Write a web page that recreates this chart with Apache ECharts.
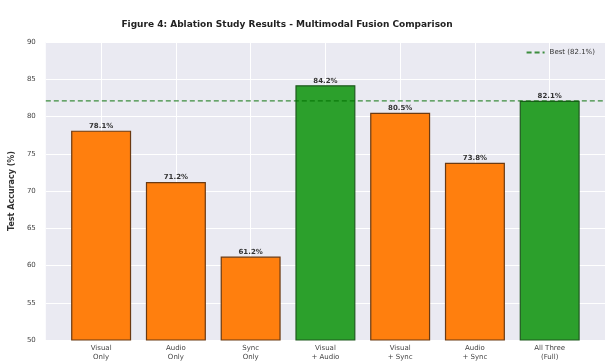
<!DOCTYPE html>
<html>
<head>
<meta charset="utf-8">
<script src="https://cdn.jsdelivr.net/npm/echarts@6/dist/echarts.min.js"></script>
<style>
  html, body { margin: 0; padding: 0; background: #fff; }
  #chart { width: 610px; height: 363px; }
</style>
</head>
<body>
<div id="chart"></div>
<script>
// data
var categories = [
  "Visual\nOnly", "Audio\nOnly", "Sync\nOnly", "Visual\n+ Audio",
  "Visual\n+ Sync", "Audio\n+ Sync", "All Three\n(Full)"
];
var accuracy = [78.1, 71.2, 61.2, 84.2, 80.5, 73.8, 82.1];
var bestValue = 82.1;
var yTicks = [50, 55, 60, 65, 70, 75, 80, 85, 90];

var myChart = echarts.init(document.getElementById("chart"));

var xIdx = categories.map(function (c, i) { return i; });

var barData = accuracy.map(function (v, i) {
  var good = v >= bestValue;
  return {
    value: [i, v],
    itemStyle: {
      color: good ? "#2ca02c" : "#ff7f0e",
      borderColor: good ? "#1f5a1f" : "#6b3a12",
      borderWidth: 1.2
    }
  };
});

var bestName = "Best (" + bestValue + "%)";

var option = {
  animation: false,
  title: {
    text: "Figure 4: Ablation Study Results - Multimodal Fusion Comparison",
    left: 282,
    top: 15,
    textAlign: "center",
    textStyle: { fontFamily: "DejaVu Sans", fontSize: 9, fontWeight: "bold", color: "#222" }
  },
  legend: {
    right: 10,
    top: 44,
    itemWidth: 18,
    itemHeight: 8,
    textStyle: { fontFamily: "DejaVu Sans", fontSize: 7, color: "#333" },
    data: [{ name: bestName, itemStyle: { opacity: 0 } }]
  },
  grid: {
    left: 45,
    right: 5,
    top: 42,
    bottom: 23,
    show: true,
    backgroundColor: "#eaeaf2",
    borderWidth: 0
  },
  xAxis: {
    type: "value",
    min: -0.74,
    max: 6.74,
    axisLine: { show: false },
    axisTick: { show: false },
    splitLine: { show: false },
    axisLabel: {
      customValues: xIdx,
      formatter: function (v) { return categories[Math.round(v)]; },
      fontFamily: "DejaVu Sans",
      fontSize: 7,
      lineHeight: 9,
      color: "#444",
      margin: 4
    }
  },
  yAxis: {
    type: "value",
    min: 50,
    max: 90,
    interval: 5,
    name: "Test Accuracy (%)",
    nameLocation: "middle",
    nameGap: 22,
    nameTextStyle: { fontFamily: "DejaVu Sans", fontSize: 8, fontWeight: "bold", color: "#333" },
    axisLine: { show: false },
    axisTick: { show: false },
    splitLine: { lineStyle: { color: "#ffffff", width: 1 } },
    axisLabel: {
      fontFamily: "DejaVu Sans",
      fontSize: 7,
      color: "#444",
      margin: 10,
      formatter: function (v) { return yTicks.indexOf(v) >= 0 ? String(v) : ""; }
    }
  },
  series: [
    {
      // vertical white grid lines at each category, kept under the bars
      type: "line",
      data: [],
      z: 0,
      silent: true,
      markLine: {
        silent: true,
        z: 0,
        symbol: "none",
        label: { show: false },
        lineStyle: { color: "#ffffff", width: 1, type: "solid" },
        data: xIdx.map(function (i) { return { xAxis: i }; })
      }
    },
    {
      name: "Accuracy",
      type: "bar",
      z: 3,
      barWidth: 60,
      data: barData,
      label: {
        show: true,
        position: "top",
        distance: 1,
        fontFamily: "DejaVu Sans",
        fontSize: 7,
        fontWeight: "bold",
        color: "#333",
        formatter: function (p) { return p.value[1].toFixed(1) + "%"; }
      }
    },
    {
      name: bestName,
      type: "line",
      z: 4,
      symbol: "none",
      data: [[-0.74, bestValue], [6.74, bestValue]],
      lineStyle: { color: "rgba(0,110,0,0.75)", width: 1.3, type: [5, 3] },
      itemStyle: { color: "rgba(0,110,0,0.75)" }
    }
  ]
};

myChart.setOption(option);
window.addEventListener("resize", function () {
  myChart.resize();
});
</script>
</body>
</html>
